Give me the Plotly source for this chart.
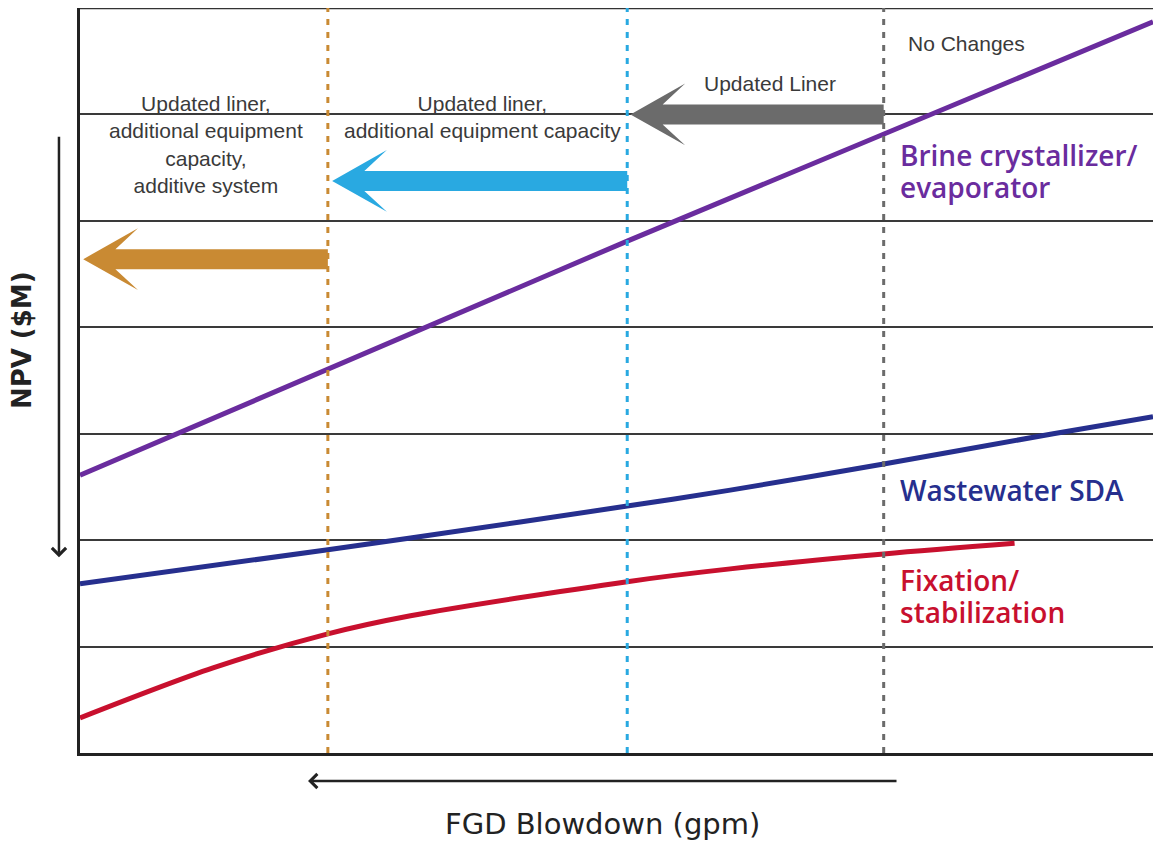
import plotly.graph_objects as go

# ---- data (arbitrary units; axes carry no tick values) ----
brine_x = [0.0, 5.10, 10.0]
brine_y = [2.61, 4.81, 6.87]

sda_x = [0.0, 2.31, 3.08, 5.10, 6.06, 7.49, 9.07, 10.0]
sda_y = [1.59, 1.91, 2.02, 2.32, 2.47, 2.715, 3.0, 3.16]

fix_x = [0.0, 1.24, 2.31, 3.08, 5.10, 6.06, 7.49, 8.71]
fix_y = [0.33, 0.80, 1.12, 1.29, 1.61, 1.73, 1.87, 1.97]

stage_x = [2.31, 5.10, 7.49]          # orange, blue, grey thresholds
stage_names = ["Updated liner,<br>additional equipment<br>capacity,<br>additive system",
               "Updated liner,<br>additional equipment capacity",
               "Updated Liner",
               "No Changes"]

PURPLE = "#6a2c9e"
NAVY = "#262f8e"
RED = "#c8102e"
ORANGE = "#c98a33"
LBLUE = "#29a9e1"
GREY = "#6b6b6b"
TXT = "#3a3a3a"

X0, X1, Y0, Y1 = 0, 10, 0, 7

fig = go.Figure()
fig.add_trace(go.Scatter(x=brine_x, y=brine_y, mode="lines",
                         line=dict(color=PURPLE, width=5), hoverinfo="skip"))
fig.add_trace(go.Scatter(x=sda_x, y=sda_y, mode="lines",
                         line=dict(color=NAVY, width=5, shape="spline", smoothing=0.8),
                         hoverinfo="skip"))
fig.add_trace(go.Scatter(x=fix_x, y=fix_y, mode="lines",
                         line=dict(color=RED, width=5, shape="spline", smoothing=0.9),
                         hoverinfo="skip"))

shapes = []
# top border
shapes.append(dict(type="line", xref="x", yref="y", x0=X0, x1=X1, y0=Y1, y1=Y1,
                   line=dict(color="#333333", width=2.5), layer="below"))
# dashed stage lines
for sx, col in zip(stage_x, [ORANGE, LBLUE, GREY]):
    shapes.append(dict(type="line", xref="x", yref="y", x0=sx, x1=sx, y0=Y0, y1=Y1,
                       line=dict(color=col, width=3, dash="6px,7px"), layer="above"))

# big block arrows pointing left (head geometry in axis units)
HL, HN, HW, SW = 0.51, 0.30, 0.29, 0.094


def block_arrow(x_tail, x_tip, yc, col):
    p = (f"M{x_tail},{yc+SW} L{x_tip+HN},{yc+SW} L{x_tip+HL},{yc+HW} L{x_tip},{yc} "
         f"L{x_tip+HL},{yc-HW} L{x_tip+HN},{yc-SW} L{x_tail},{yc-SW} Z")
    return dict(type="path", xref="x", yref="y", path=p, fillcolor=col,
                line=dict(width=0), layer="above")


shapes.append(block_arrow(stage_x[2], stage_x[1] + 0.03, 6.0, GREY))
shapes.append(block_arrow(stage_x[1], stage_x[0] + 0.04, 5.375, LBLUE))
shapes.append(block_arrow(stage_x[0], 0.03, 4.64, ORANGE))

ann = []
small = dict(family="Liberation Sans, Arial, sans-serif", size=21, color=TXT)
ann.append(dict(x=1.17, y=5.713, text=stage_names[0], showarrow=False, font=small,
                xanchor="center", yanchor="middle", align="center"))
ann.append(dict(x=3.75, y=5.976, text=stage_names[1], showarrow=False, font=small,
                xanchor="center", yanchor="middle", align="center"))
ann.append(dict(x=6.43, y=6.286, text=stage_names[2], showarrow=False, font=small,
                xanchor="center", yanchor="middle"))
ann.append(dict(x=7.70, y=6.671, text=stage_names[3], showarrow=False, font=small,
                xanchor="left", yanchor="middle"))

big = dict(family="Open Sans, sans-serif", size=28, weight=600)
label_lines = [("Brine crystallizer/", 5.619, PURPLE), ("evaporator", 5.318, PURPLE),
               ("Wastewater SDA", 2.471, NAVY),
               ("Fixation/", 1.625, RED), ("stabilization", 1.325, RED)]
for txt, yy, col in label_lines:
    ann.append(dict(x=7.62, y=yy, text=txt, showarrow=False, font=dict(big, color=col),
                    xanchor="left", yanchor="middle"))

# axis titles
ann.append(dict(xref="paper", yref="y", x=-0.054, y=3.88, text="NPV ($M)", showarrow=False,
                textangle=-90, font=dict(family="DejaVu Sans, sans-serif", size=26,
                                         weight="bold", color="#222222"),
                xanchor="center", yanchor="middle"))
ann.append(dict(xref="x", yref="paper", x=4.874, y=-0.0953, text="FGD Blowdown (gpm)",
                showarrow=False, font=dict(family="DejaVu Sans, sans-serif", size=29,
                                           color="#222222"),
                xanchor="center", yanchor="middle"))

# direction arrows beside the axes
ann.append(dict(xref="paper", yref="y", x=-0.0196, y=1.84, ax=0, ay=-422,
                axref="pixel", ayref="pixel", text="", showarrow=True,
                arrowhead=4, arrowsize=1.1, arrowwidth=2.5, arrowcolor="#222222"))
ann.append(dict(xref="x", yref="paper", x=2.125, y=-0.0376, ax=590, ay=0,
                axref="pixel", ayref="pixel", text="", showarrow=True,
                arrowhead=4, arrowsize=1.1, arrowwidth=2.5, arrowcolor="#222222"))

fig.update_layout(
    width=1153, height=843,
    margin=dict(l=80, r=0, t=8, b=90),
    paper_bgcolor="white", plot_bgcolor="white",
    showlegend=False,
    shapes=shapes, annotations=ann,
    xaxis=dict(range=[X0, X1], showgrid=False, zeroline=False, showticklabels=False,
               ticks="", showline=True, linecolor="#222222", linewidth=3, fixedrange=True),
    yaxis=dict(range=[Y0, Y1], showgrid=True, gridcolor="#3a3a3a", gridwidth=1.6,
               dtick=1, tick0=0, zeroline=False, showticklabels=False, ticks="",
               showline=True, linecolor="#222222", linewidth=3, fixedrange=True),
)

# remove the default 8px page margin so the 1153x843 figure fills the window exactly
fig.write_html("out.html", config={"displayModeBar": False},
               post_script="document.body.style.margin='0px';"
                           "document.body.style.overflow='hidden';")
